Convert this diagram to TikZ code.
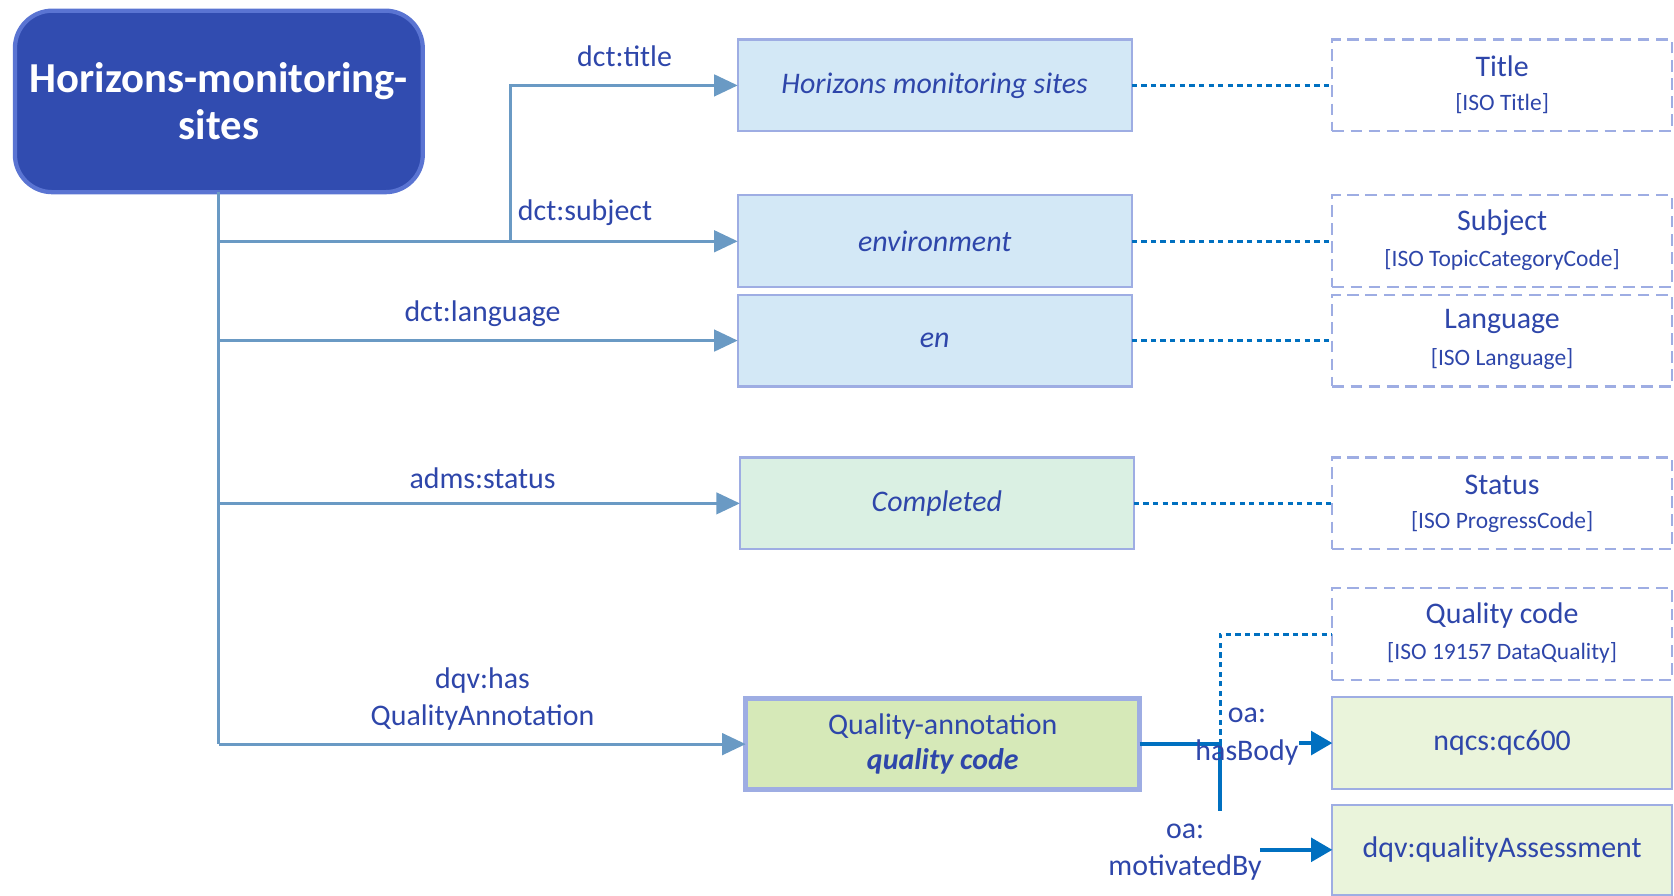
\documentclass[tikz,border=0pt]{standalone}
\usepackage{fontspec}
\setmainfont{Carlito}
\usetikzlibrary{arrows.meta}
\definecolor{txt}{HTML}{2E46AA}
\definecolor{conn}{HTML}{6A9AC4}
\definecolor{oablue}{HTML}{0070C0}
\definecolor{bord}{HTML}{9EADE3}
\definecolor{mainfill}{HTML}{314CB0}
\definecolor{mainbord}{HTML}{5A74D2}
\definecolor{bluefill}{HTML}{D3E8F6}
\definecolor{mintfill}{HTML}{DAF0E3}
\definecolor{qafill}{HTML}{D6E9B8}
\definecolor{greenfill}{HTML}{EAF4DB}
\begin{document}
\begin{tikzpicture}[x=1pt,y=-1pt,
  every node/.style={inner sep=0pt, outer sep=0pt},
  mainbox/.style={draw=mainbord, fill=mainfill, line width=4pt, rounded corners=35pt,
    minimum width=382pt, minimum height=170pt, text=white, align=center,
    font=\fontsize{40}{44}\selectfont\bfseries},
  valbox/.style={draw=bord, line width=2pt, minimum width=369pt, minimum height=86pt,
    font=\fontsize{28}{33}\selectfont\itshape, text=txt, align=center},
  refbox/.style={draw=bord, line width=2pt, dash pattern=on 11pt off 6pt, fill=white,
    minimum width=318pt, minimum height=86pt},
  greenbox/.style={draw=bord, line width=2pt, fill=greenfill, minimum width=318pt,
    minimum height=86pt, font=\fontsize{28}{33}\selectfont, text=txt},
  reftitle/.style={font=\fontsize{28}{33}\selectfont, text=txt},
  refsub/.style={font=\fontsize{22}{26}\selectfont, text=txt},
  lbl/.style={font=\fontsize{28}{35}\selectfont, text=txt, align=center},
  connline/.style={draw=conn, line width=3pt},
  connarrow/.style={connline, -{Triangle[length=22pt,width=20pt]}},
  oaline/.style={draw=oablue, line width=4pt},
  oaarrow/.style={oaline, -{Triangle[length=20pt,width=22pt]}},
  dotline/.style={draw=oablue, line width=3pt, dash pattern=on 5pt off 4pt}
]
\useasboundingbox (0,0) rectangle (1568,839);

% main node
\node[mainbox] (main) at (205,95) {Horizons-monitoring-\\sites};

% value boxes
\node[valbox, fill=bluefill] (titlebox) at (875.5,80) {Horizons monitoring sites};
\node[valbox, fill=bluefill] (envbox) at (875.5,226) {environment};
\node[valbox, fill=bluefill] (enbox) at (875.5,319) {en};
\node[valbox, fill=mintfill] (compbox) at (877.5,471.5) {Completed};
\node[valbox, fill=qafill, line width=5pt, minimum width=369pt, minimum height=85pt, font=\fontsize{28}{33}\selectfont] (qabox) at (883,697)
  {Quality-annotation\\\textbf{\textit{quality code}}};

% reference boxes
\node[refbox] (reftitle) at (1407,80) {};
\node[reftitle] (reftitleA) at ([yshift=17.5pt]reftitle.center) {Title};
\node[refsub] (reftitleB) at ([yshift=-17.5pt]reftitle.center) {[ISO Title]};

\node[refbox] (refsubj) at (1407,226) {};
\node[reftitle] (refsubjA) at ([yshift=17.5pt]refsubj.center) {Subject};
\node[refsub] (refsubjB) at ([yshift=-17.5pt]refsubj.center) {[ISO TopicCategoryCode]};

\node[refbox] (reflang) at (1407,319) {};
\node[reftitle] (reflangA) at ([yshift=17.5pt]reflang.center) {Language};
\node[refsub] (reflangB) at ([yshift=-17.5pt]reflang.center) {[ISO Language]};

\node[refbox] (refstat) at (1407,471.5) {};
\node[reftitle] (refstatA) at ([yshift=17.5pt]refstat.center) {Status};
\node[refsub] (refstatB) at ([yshift=-17.5pt]refstat.center) {[ISO ProgressCode]};

\node[refbox] (refqc) at (1407,594) {};
\node[reftitle] (refqcA) at ([yshift=17.5pt]refqc.center) {Quality code};
\node[refsub] (refqcB) at ([yshift=-17.5pt]refqc.center) {[ISO 19157 DataQuality]};

% green result boxes
\node[greenbox] (nqcs) at (1407,696) {nqcs:qc600};
\node[greenbox, minimum height=84pt] (dqv) at (1407,796) {dqv:qualityAssessment};

% connector coordinates
\coordinate (c2) at (205,226);
\coordinate (c3) at (205,319);
\coordinate (c4) at (205,471.5);
\coordinate (c5) at (205,697);
\coordinate (cT) at (478,226);
\coordinate (j1) at (1143,697);
\coordinate (j2) at (1143,760);
\coordinate (h1) at (1217,696);
\coordinate (m1) at (1180,796);

% main connectors
\draw[connline] (main.south) -- (c5);
\draw[connarrow] (c2) -- (envbox.west);
\draw[connarrow] (cT) |- (titlebox.west);
\draw[connarrow] (c3) -- (enbox.west);
\draw[connarrow] (c4) -- (compbox.west);
\draw[connarrow] (c5) -- (qabox.west);

% dotted connectors
\draw[dotline] (titlebox.east) -- (reftitle.west);
\draw[dotline] (envbox.east) -- (refsubj.west);
\draw[dotline] (enbox.east) -- (reflang.west);
\draw[dotline] (compbox.east) -- (refstat.west);
\draw[dotline] (j1) |- (refqc.west);

% oa connectors
\draw[oaline] (qabox.east) -- (j1) -- (j2);
\draw[oaarrow] (h1) -- (nqcs.west);
\draw[oaarrow] (m1) -- (dqv.west);

% labels
\node[lbl] (ltitle) at (585,53) {dct:title};
\node[lbl] (lsubj) at (548,199) {dct:subject};
\node[lbl] (llang) at (452,294) {dct:language};
\node[lbl] (lstat) at (452,448) {adms:status};
\node[lbl] (lqa) at (452,655) {dqv:has\\QualityAnnotation};
\node[lbl] (lbody) at (1168,690) {oa:\\hasBody};
\node[lbl] (lmot) at (1110,798) {oa:\\motivatedBy};
\end{tikzpicture}
\end{document}
